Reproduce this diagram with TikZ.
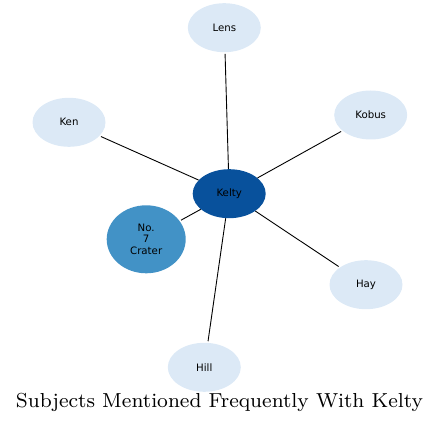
\documentclass[tikz,border=0pt]{standalone}
\usepackage{fontspec}
\newfontfamily\labfont{DejaVu Sans}
\usetikzlibrary{shapes.geometric}
\definecolor{lightblue}{HTML}{DCE9F6}
\definecolor{darkblue}{HTML}{08519C}
\definecolor{midblue}{HTML}{4292C6}
\tikzset{
  ent/.style={ellipse, draw=none, fill=lightblue, minimum width=73pt, minimum height=49pt, inner sep=0pt, font=\labfont\fontsize{10.2}{11.7}\selectfont, align=center},
  conn/.style={draw=black, line width=0.9pt, shorten >=1.5pt},
}
\begin{document}
\begin{tikzpicture}[x=1pt,y=-1pt]
\useasboundingbox (0,0) rectangle (440,427);
\node[ent, fill=darkblue] (kelty) at (229.2,193.7) {Kelty};
\node[ent] (lens) at (224.3,27.7) {Lens};
\node[ent] (ken) at (69,122.3) {Ken};
\node[ent] (kobus) at (370.7,115) {Kobus};
\node[ent] (hay) at (366,284.7) {Hay};
\node[ent] (hill) at (204.3,367.3) {Hill};
\node[ent, fill=midblue, minimum width=79pt, minimum height=68pt] (crater) at (146.2,239.3) {No.\\7\\Crater};
\foreach \t in {lens,ken,kobus,hay,hill,crater}
  \draw[conn] (kelty) -- (\t);
\node[anchor=base, inner sep=0pt] (title) at (219.5,408) {\resizebox{407pt}{!}{\fontsize{8}{9}\selectfont Subjects Mentioned Frequently With Kelty}};
\end{tikzpicture}
\end{document}
